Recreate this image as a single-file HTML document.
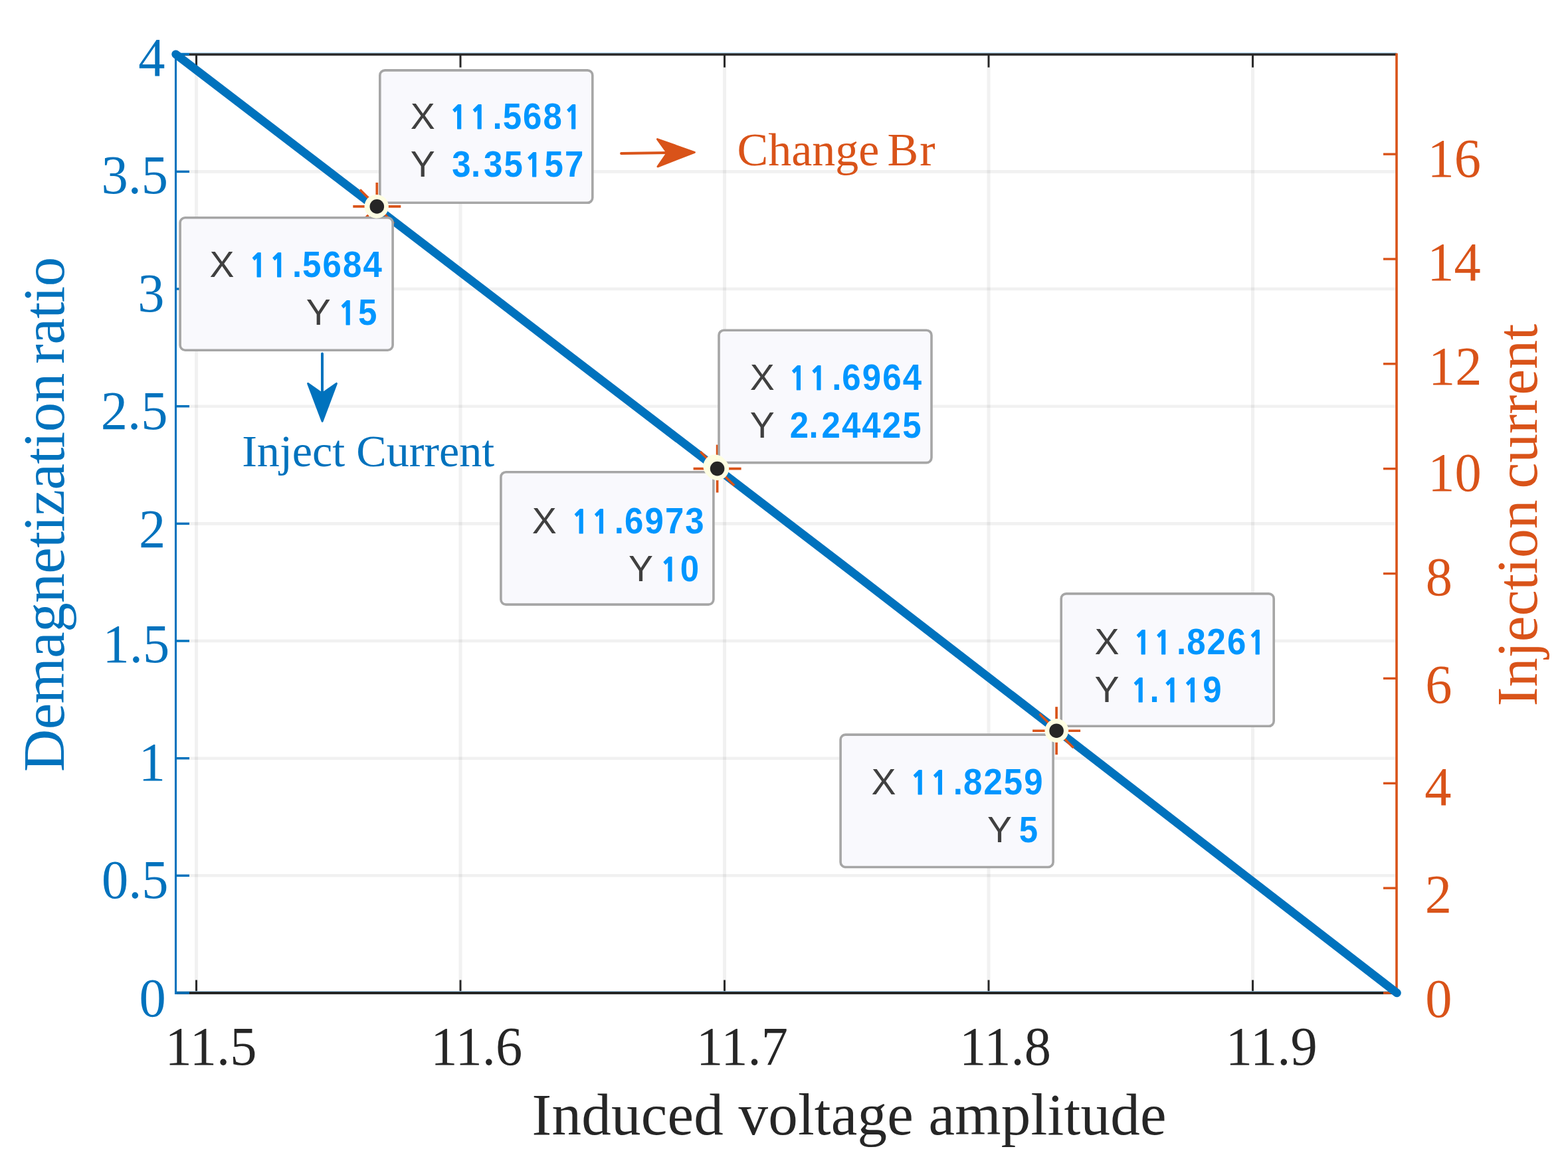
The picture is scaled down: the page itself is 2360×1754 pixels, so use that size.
<!DOCTYPE html>
<html><head><meta charset="utf-8"><title>Demagnetization ratio vs Induced voltage amplitude</title>
<style>html,body{margin:0;padding:0;background:#fff;overflow:hidden;} svg{display:block;}</style>
</head><body>
<svg width="2360" height="1754" viewBox="0 0 2360 1754">
<rect width="2360" height="1754" fill="#ffffff"/>
<line x1="295.5" y1="84" x2="295.5" y2="1493" stroke="#262626" stroke-opacity="0.064" stroke-width="5"/>
<line x1="693" y1="84" x2="693" y2="1493" stroke="#262626" stroke-opacity="0.064" stroke-width="5"/>
<line x1="1090.5" y1="84" x2="1090.5" y2="1493" stroke="#262626" stroke-opacity="0.064" stroke-width="5"/>
<line x1="1488" y1="84" x2="1488" y2="1493" stroke="#262626" stroke-opacity="0.064" stroke-width="5"/>
<line x1="1885.5" y1="84" x2="1885.5" y2="1493" stroke="#262626" stroke-opacity="0.064" stroke-width="5"/>
<line x1="266.0" y1="1318.3" x2="2100.3" y2="1318.3" stroke="#262626" stroke-opacity="0.064" stroke-width="4.6"/>
<line x1="266.0" y1="1141.7" x2="2100.3" y2="1141.7" stroke="#262626" stroke-opacity="0.064" stroke-width="4.6"/>
<line x1="266.0" y1="965.0" x2="2100.3" y2="965.0" stroke="#262626" stroke-opacity="0.064" stroke-width="4.6"/>
<line x1="266.0" y1="788.4" x2="2100.3" y2="788.4" stroke="#262626" stroke-opacity="0.064" stroke-width="4.6"/>
<line x1="266.0" y1="611.7" x2="2100.3" y2="611.7" stroke="#262626" stroke-opacity="0.064" stroke-width="4.6"/>
<line x1="266.0" y1="435.0" x2="2100.3" y2="435.0" stroke="#262626" stroke-opacity="0.064" stroke-width="4.6"/>
<line x1="266.0" y1="258.4" x2="2100.3" y2="258.4" stroke="#262626" stroke-opacity="0.064" stroke-width="4.6"/>
<line x1="295.5" y1="82" x2="295.5" y2="101.5" stroke="#262626" stroke-width="2.9"/>
<line x1="295.5" y1="1495" x2="295.5" y2="1475.5" stroke="#262626" stroke-width="2.9"/>
<line x1="693" y1="82" x2="693" y2="101.5" stroke="#262626" stroke-width="2.9"/>
<line x1="693" y1="1495" x2="693" y2="1475.5" stroke="#262626" stroke-width="2.9"/>
<line x1="1090.5" y1="82" x2="1090.5" y2="101.5" stroke="#262626" stroke-width="2.9"/>
<line x1="1090.5" y1="1495" x2="1090.5" y2="1475.5" stroke="#262626" stroke-width="2.9"/>
<line x1="1488" y1="82" x2="1488" y2="101.5" stroke="#262626" stroke-width="2.9"/>
<line x1="1488" y1="1495" x2="1488" y2="1475.5" stroke="#262626" stroke-width="2.9"/>
<line x1="1885.5" y1="82" x2="1885.5" y2="101.5" stroke="#262626" stroke-width="2.9"/>
<line x1="1885.5" y1="1495" x2="1885.5" y2="1475.5" stroke="#262626" stroke-width="2.9"/>
<line x1="264.5" y1="79.6" x2="2102" y2="79.6" stroke="#9fd0f2" stroke-width="1"/>
<line x1="264.5" y1="1492.6" x2="2102" y2="1492.6" stroke="#9fd0f2" stroke-width="1"/>
<line x1="264.5" y1="82" x2="2102" y2="82" stroke="#262626" stroke-width="3.6"/>
<line x1="264.5" y1="1495" x2="2102" y2="1495" stroke="#262626" stroke-width="3.8"/>
<line x1="264.5" y1="1495.0" x2="285.0" y2="1495.0" stroke="#0072BD" stroke-width="3.4"/>
<line x1="264.5" y1="1318.3" x2="285.0" y2="1318.3" stroke="#0072BD" stroke-width="3.4"/>
<line x1="264.5" y1="1141.7" x2="285.0" y2="1141.7" stroke="#0072BD" stroke-width="3.4"/>
<line x1="264.5" y1="965.0" x2="285.0" y2="965.0" stroke="#0072BD" stroke-width="3.4"/>
<line x1="264.5" y1="788.4" x2="285.0" y2="788.4" stroke="#0072BD" stroke-width="3.4"/>
<line x1="264.5" y1="611.7" x2="285.0" y2="611.7" stroke="#0072BD" stroke-width="3.4"/>
<line x1="264.5" y1="435.0" x2="285.0" y2="435.0" stroke="#0072BD" stroke-width="3.4"/>
<line x1="264.5" y1="258.4" x2="285.0" y2="258.4" stroke="#0072BD" stroke-width="3.4"/>
<line x1="264.5" y1="81.7" x2="285.0" y2="81.7" stroke="#0072BD" stroke-width="3.4"/>
<line x1="2102" y1="1495.0" x2="2082" y2="1495.0" stroke="#D95319" stroke-width="3.4"/>
<line x1="2102" y1="1337.1" x2="2082" y2="1337.1" stroke="#D95319" stroke-width="3.4"/>
<line x1="2102" y1="1179.3" x2="2082" y2="1179.3" stroke="#D95319" stroke-width="3.4"/>
<line x1="2102" y1="1021.4" x2="2082" y2="1021.4" stroke="#D95319" stroke-width="3.4"/>
<line x1="2102" y1="863.6" x2="2082" y2="863.6" stroke="#D95319" stroke-width="3.4"/>
<line x1="2102" y1="705.7" x2="2082" y2="705.7" stroke="#D95319" stroke-width="3.4"/>
<line x1="2102" y1="547.8" x2="2082" y2="547.8" stroke="#D95319" stroke-width="3.4"/>
<line x1="2102" y1="390.0" x2="2082" y2="390.0" stroke="#D95319" stroke-width="3.4"/>
<line x1="2102" y1="232.1" x2="2082" y2="232.1" stroke="#D95319" stroke-width="3.4"/>
<line x1="264.5" y1="80.2" x2="264.5" y2="1496.9" stroke="#0072BD" stroke-width="3.1"/>
<line x1="2102" y1="80.2" x2="2102" y2="1496.9" stroke="#D95319" stroke-width="3.6"/>
<polyline points="264.6,81.7 1300,874.7 2102.5,1494.9" fill="none" stroke="#0072BD" stroke-width="12.6" stroke-linecap="round" stroke-linejoin="round"/>
<text transform="translate(248.60,1603.1) scale(1,1.037)" style="font-family:&quot;Liberation Serif&quot;,&quot;Times New Roman&quot;,serif;font-size:80.5px" fill="#262626">11.5</text>
<text transform="translate(648.32,1603.1) scale(1,1.037)" style="font-family:&quot;Liberation Serif&quot;,&quot;Times New Roman&quot;,serif;font-size:80.5px" fill="#262626">11.6</text>
<text transform="translate(1048.03,1603.1) scale(1,1.037)" style="font-family:&quot;Liberation Serif&quot;,&quot;Times New Roman&quot;,serif;font-size:80.5px" fill="#262626">11.7</text>
<text transform="translate(1444.01,1603.1) scale(1,1.037)" style="font-family:&quot;Liberation Serif&quot;,&quot;Times New Roman&quot;,serif;font-size:80.5px" fill="#262626">11.8</text>
<text transform="translate(1844.78,1603.1) scale(1,1.037)" style="font-family:&quot;Liberation Serif&quot;,&quot;Times New Roman&quot;,serif;font-size:80.5px" fill="#262626">11.9</text>
<text transform="translate(208.22,114.00) scale(1,1.037)" style="font-family:&quot;Liberation Serif&quot;,&quot;Times New Roman&quot;,serif;font-size:80.5px" fill="#0072BD">4</text>
<text transform="translate(152.48,291.22) scale(1,1.037)" style="font-family:&quot;Liberation Serif&quot;,&quot;Times New Roman&quot;,serif;font-size:80.5px" fill="#0072BD">3.5</text>
<text transform="translate(207.22,468.98) scale(1,1.037)" style="font-family:&quot;Liberation Serif&quot;,&quot;Times New Roman&quot;,serif;font-size:80.5px" fill="#0072BD">3</text>
<text transform="translate(151.79,646.12) scale(1,1.037)" style="font-family:&quot;Liberation Serif&quot;,&quot;Times New Roman&quot;,serif;font-size:80.5px" fill="#0072BD">2.5</text>
<text transform="translate(208.88,823.90) scale(1,1.037)" style="font-family:&quot;Liberation Serif&quot;,&quot;Times New Roman&quot;,serif;font-size:80.5px" fill="#0072BD">2</text>
<text transform="translate(154.52,996.82) scale(1,1.037)" style="font-family:&quot;Liberation Serif&quot;,&quot;Times New Roman&quot;,serif;font-size:80.5px" fill="#0072BD">1.5</text>
<text transform="translate(208.75,1175.00) scale(1,1.037)" style="font-family:&quot;Liberation Serif&quot;,&quot;Times New Roman&quot;,serif;font-size:80.5px" fill="#0072BD">1</text>
<text transform="translate(152.88,1352.02) scale(1,1.037)" style="font-family:&quot;Liberation Serif&quot;,&quot;Times New Roman&quot;,serif;font-size:80.5px" fill="#0072BD">0.5</text>
<text transform="translate(209.43,1530.38) scale(1,1.037)" style="font-family:&quot;Liberation Serif&quot;,&quot;Times New Roman&quot;,serif;font-size:80.5px" fill="#0072BD">0</text>
<text transform="translate(2148.61,265.98) scale(1,1.037)" style="font-family:&quot;Liberation Serif&quot;,&quot;Times New Roman&quot;,serif;font-size:80.5px" fill="#D95319">16</text>
<text transform="translate(2148.34,422.00) scale(1,1.037)" style="font-family:&quot;Liberation Serif&quot;,&quot;Times New Roman&quot;,serif;font-size:80.5px" fill="#D95319">14</text>
<text transform="translate(2149.93,579.00) scale(1,1.037)" style="font-family:&quot;Liberation Serif&quot;,&quot;Times New Roman&quot;,serif;font-size:80.5px" fill="#D95319">12</text>
<text transform="translate(2149.30,739.48) scale(1,1.037)" style="font-family:&quot;Liberation Serif&quot;,&quot;Times New Roman&quot;,serif;font-size:80.5px" fill="#D95319">10</text>
<text transform="translate(2145.72,895.88) scale(1,1.037)" style="font-family:&quot;Liberation Serif&quot;,&quot;Times New Roman&quot;,serif;font-size:80.5px" fill="#D95319">8</text>
<text transform="translate(2145.19,1057.68) scale(1,1.037)" style="font-family:&quot;Liberation Serif&quot;,&quot;Times New Roman&quot;,serif;font-size:80.5px" fill="#D95319">6</text>
<text transform="translate(2144.17,1212.40) scale(1,1.037)" style="font-family:&quot;Liberation Serif&quot;,&quot;Times New Roman&quot;,serif;font-size:80.5px" fill="#D95319">4</text>
<text transform="translate(2144.78,1374.00) scale(1,1.037)" style="font-family:&quot;Liberation Serif&quot;,&quot;Times New Roman&quot;,serif;font-size:80.5px" fill="#D95319">2</text>
<text transform="translate(2145.32,1530.88) scale(1,1.037)" style="font-family:&quot;Liberation Serif&quot;,&quot;Times New Roman&quot;,serif;font-size:80.5px" fill="#D95319">0</text>
<text x="800.5" y="1707.8" style="font-family:&quot;Liberation Serif&quot;,&quot;Times New Roman&quot;,serif;font-size:89px" fill="#262626" letter-spacing="0.25">Induced voltage amplitude</text>
<text transform="translate(96.4,1162) rotate(-90)" style="font-family:&quot;Liberation Serif&quot;,&quot;Times New Roman&quot;,serif;font-size:89px;word-spacing:-7px" fill="#0072BD" letter-spacing="-0.55">Demagnetization ratio</text>
<text transform="translate(2312.6,1063.4) rotate(-90)" style="font-family:&quot;Liberation Serif&quot;,&quot;Times New Roman&quot;,serif;font-size:87.5px;word-spacing:-5px" fill="#D95319" letter-spacing="0">Injection current</text>
<text x="1109.6" y="249.3" style="font-family:&quot;Liberation Serif&quot;,&quot;Times New Roman&quot;,serif;font-size:70px;word-spacing:-5.5px" fill="#D95319">Change B<tspan dx="2">r</tspan></text>
<text x="364.2" y="702.2" style="font-family:&quot;Liberation Serif&quot;,&quot;Times New Roman&quot;,serif;font-size:68.1px" fill="#0072BD">Inject Current</text>
<line x1="935" y1="231" x2="1003" y2="230" stroke="#D95319" stroke-width="3.8" stroke-linecap="round"/>
<polygon points="1045.3,229.4 989.5,209.6 1004.3,230 990,250.8" fill="#D95319" stroke="#D95319" stroke-width="3" stroke-linejoin="round"/>
<line x1="485" y1="532.6" x2="485" y2="594" stroke="#0072BD" stroke-width="4" stroke-linecap="round"/>
<polygon points="485.1,634.3 463.6,577.4 484.9,592.5 506.4,577.4" fill="#0072BD" stroke="#0072BD" stroke-width="3" stroke-linejoin="round"/>
<line x1="531.3" y1="310.9" x2="603.3" y2="310.9" stroke="#D95319" stroke-width="3.6"/><line x1="567.3" y1="274.9" x2="567.3" y2="346.9" stroke="#D95319" stroke-width="3.7"/><line x1="541.8" y1="285.4" x2="592.8" y2="336.4" stroke="#D95319" stroke-width="3.6"/><line x1="541.8" y1="336.4" x2="592.8" y2="285.4" stroke="#D95319" stroke-width="3.6"/><line x1="1043.6" y1="705.6" x2="1115.6" y2="705.6" stroke="#D95319" stroke-width="3.6"/><line x1="1079.6" y1="669.6" x2="1079.6" y2="741.6" stroke="#D95319" stroke-width="3.7"/><line x1="1054.1" y1="680.1" x2="1105.1" y2="731.1" stroke="#D95319" stroke-width="3.6"/><line x1="1054.1" y1="731.1" x2="1105.1" y2="680.1" stroke="#D95319" stroke-width="3.6"/><line x1="1554.1" y1="1100.2" x2="1626.1" y2="1100.2" stroke="#D95319" stroke-width="3.6"/><line x1="1590.1" y1="1064.2" x2="1590.1" y2="1136.2" stroke="#D95319" stroke-width="3.7"/><line x1="1564.6" y1="1074.7" x2="1615.6" y2="1125.7" stroke="#D95319" stroke-width="3.6"/><line x1="1564.6" y1="1125.7" x2="1615.6" y2="1074.7" stroke="#D95319" stroke-width="3.6"/>
<rect x="571.80" y="105.90" width="320.00" height="199.40" rx="7.5" ry="7.5" fill="#f9f9fd" stroke="#a6a6a6" stroke-width="3.6"/>
<text x="617.7" y="194.0" style="font-family:&quot;Liberation Sans&quot;,Arial,Helvetica,sans-serif;font-size:55.5px" fill="#404040">X</text>
<text x="617.7" y="265.9" style="font-family:&quot;Liberation Sans&quot;,Arial,Helvetica,sans-serif;font-size:55.5px" fill="#404040">Y</text>
<text transform="scale(0.93,1)" y="194.0" style="font-family:&quot;Liberation Sans&quot;,Arial,Helvetica,sans-serif;font-size:54.8px;font-weight:bold" fill="#0096FF"><tspan x="727.53" style="font-family:NanumGothic,&quot;Liberation Sans&quot;,sans-serif;font-weight:800;font-size:48.77px">1</tspan><tspan x="760.29" style="font-family:NanumGothic,&quot;Liberation Sans&quot;,sans-serif;font-weight:800;font-size:48.77px">1</tspan><tspan x="797.35">.</tspan><tspan x="813.60">5</tspan><tspan x="846.36">6</tspan><tspan x="879.13">8</tspan><tspan x="912.35" style="font-family:NanumGothic,&quot;Liberation Sans&quot;,sans-serif;font-weight:800;font-size:48.77px">1</tspan></text>
<text transform="scale(0.93,1)" y="265.9" style="font-family:&quot;Liberation Sans&quot;,Arial,Helvetica,sans-serif;font-size:54.8px;font-weight:bold" fill="#0096FF"><tspan x="731.43">3</tspan><tspan x="762.49">.</tspan><tspan x="782.84">3</tspan><tspan x="815.60">5</tspan><tspan x="848.82" style="font-family:NanumGothic,&quot;Liberation Sans&quot;,sans-serif;font-weight:800;font-size:48.77px">1</tspan><tspan x="881.12">5</tspan><tspan x="913.88">7</tspan></text>
<rect x="271.10" y="327.80" width="320.00" height="199.40" rx="7.5" ry="7.5" fill="#f9f9fd" stroke="#a6a6a6" stroke-width="3.6"/>
<text x="315.6" y="416.8" style="font-family:&quot;Liberation Sans&quot;,Arial,Helvetica,sans-serif;font-size:55.5px" fill="#404040">X</text>
<text x="460.8" y="488.8" style="font-family:&quot;Liberation Sans&quot;,Arial,Helvetica,sans-serif;font-size:55.5px" fill="#404040">Y</text>
<text transform="scale(0.93,1)" y="416.8" style="font-family:&quot;Liberation Sans&quot;,Arial,Helvetica,sans-serif;font-size:54.8px;font-weight:bold" fill="#0096FF"><tspan x="403.23" style="font-family:NanumGothic,&quot;Liberation Sans&quot;,sans-serif;font-weight:800;font-size:48.77px">1</tspan><tspan x="435.99" style="font-family:NanumGothic,&quot;Liberation Sans&quot;,sans-serif;font-weight:800;font-size:48.77px">1</tspan><tspan x="473.05">.</tspan><tspan x="489.30">5</tspan><tspan x="522.06">6</tspan><tspan x="554.83">8</tspan><tspan x="587.59">4</tspan></text>
<text transform="scale(0.93,1)" y="488.8" style="font-family:&quot;Liberation Sans&quot;,Arial,Helvetica,sans-serif;font-size:54.8px;font-weight:bold" fill="#0096FF"><tspan x="547.21" style="font-family:NanumGothic,&quot;Liberation Sans&quot;,sans-serif;font-weight:800;font-size:48.77px">1</tspan><tspan x="579.51">5</tspan></text>
<rect x="1082.00" y="497.20" width="320.00" height="199.40" rx="7.5" ry="7.5" fill="#f9f9fd" stroke="#a6a6a6" stroke-width="3.6"/>
<text x="1128.8" y="586.9" style="font-family:&quot;Liberation Sans&quot;,Arial,Helvetica,sans-serif;font-size:55.5px" fill="#404040">X</text>
<text x="1128.8" y="659" style="font-family:&quot;Liberation Sans&quot;,Arial,Helvetica,sans-serif;font-size:55.5px" fill="#404040">Y</text>
<text transform="scale(0.93,1)" y="586.9" style="font-family:&quot;Liberation Sans&quot;,Arial,Helvetica,sans-serif;font-size:54.8px;font-weight:bold" fill="#0096FF"><tspan x="1276.56" style="font-family:NanumGothic,&quot;Liberation Sans&quot;,sans-serif;font-weight:800;font-size:48.77px">1</tspan><tspan x="1309.32" style="font-family:NanumGothic,&quot;Liberation Sans&quot;,sans-serif;font-weight:800;font-size:48.77px">1</tspan><tspan x="1346.38">.</tspan><tspan x="1362.63">6</tspan><tspan x="1395.40">9</tspan><tspan x="1428.16">6</tspan><tspan x="1460.92">4</tspan></text>
<text transform="scale(0.93,1)" y="659" style="font-family:&quot;Liberation Sans&quot;,Arial,Helvetica,sans-serif;font-size:54.8px;font-weight:bold" fill="#0096FF"><tspan x="1278.10">2</tspan><tspan x="1309.16">.</tspan><tspan x="1329.51">2</tspan><tspan x="1362.27">4</tspan><tspan x="1395.03">4</tspan><tspan x="1427.79">2</tspan><tspan x="1460.55">5</tspan></text>
<rect x="753.90" y="710.70" width="320.00" height="199.40" rx="7.5" ry="7.5" fill="#f9f9fd" stroke="#a6a6a6" stroke-width="3.6"/>
<text x="800.7" y="803.0" style="font-family:&quot;Liberation Sans&quot;,Arial,Helvetica,sans-serif;font-size:55.5px" fill="#404040">X</text>
<text x="946.1" y="874.9" style="font-family:&quot;Liberation Sans&quot;,Arial,Helvetica,sans-serif;font-size:55.5px" fill="#404040">Y</text>
<text transform="scale(0.93,1)" y="803.0" style="font-family:&quot;Liberation Sans&quot;,Arial,Helvetica,sans-serif;font-size:54.8px;font-weight:bold" fill="#0096FF"><tspan x="924.63" style="font-family:NanumGothic,&quot;Liberation Sans&quot;,sans-serif;font-weight:800;font-size:48.77px">1</tspan><tspan x="957.39" style="font-family:NanumGothic,&quot;Liberation Sans&quot;,sans-serif;font-weight:800;font-size:48.77px">1</tspan><tspan x="994.44">.</tspan><tspan x="1010.70">6</tspan><tspan x="1043.46">9</tspan><tspan x="1076.22">7</tspan><tspan x="1108.99">3</tspan></text>
<text transform="scale(0.93,1)" y="874.9" style="font-family:&quot;Liberation Sans&quot;,Arial,Helvetica,sans-serif;font-size:54.8px;font-weight:bold" fill="#0096FF"><tspan x="1068.61" style="font-family:NanumGothic,&quot;Liberation Sans&quot;,sans-serif;font-weight:800;font-size:48.77px">1</tspan><tspan x="1100.91">0</tspan></text>
<rect x="1597.20" y="893.90" width="320.00" height="199.40" rx="7.5" ry="7.5" fill="#f9f9fd" stroke="#a6a6a6" stroke-width="3.6"/>
<text x="1647.6" y="984.9" style="font-family:&quot;Liberation Sans&quot;,Arial,Helvetica,sans-serif;font-size:55.5px" fill="#404040">X</text>
<text x="1647.6" y="1056.8" style="font-family:&quot;Liberation Sans&quot;,Arial,Helvetica,sans-serif;font-size:55.5px" fill="#404040">Y</text>
<text transform="scale(0.93,1)" y="984.9" style="font-family:&quot;Liberation Sans&quot;,Arial,Helvetica,sans-serif;font-size:54.8px;font-weight:bold" fill="#0096FF"><tspan x="1834.52" style="font-family:NanumGothic,&quot;Liberation Sans&quot;,sans-serif;font-weight:800;font-size:48.77px">1</tspan><tspan x="1867.28" style="font-family:NanumGothic,&quot;Liberation Sans&quot;,sans-serif;font-weight:800;font-size:48.77px">1</tspan><tspan x="1904.34">.</tspan><tspan x="1920.59">8</tspan><tspan x="1953.35">2</tspan><tspan x="1986.12">6</tspan><tspan x="2019.33" style="font-family:NanumGothic,&quot;Liberation Sans&quot;,sans-serif;font-weight:800;font-size:48.77px">1</tspan></text>
<text transform="scale(0.93,1)" y="1056.8" style="font-family:&quot;Liberation Sans&quot;,Arial,Helvetica,sans-serif;font-size:54.8px;font-weight:bold" fill="#0096FF"><tspan x="1830.11" style="font-family:NanumGothic,&quot;Liberation Sans&quot;,sans-serif;font-weight:800;font-size:48.77px">1</tspan><tspan x="1860.71">.</tspan><tspan x="1881.51" style="font-family:NanumGothic,&quot;Liberation Sans&quot;,sans-serif;font-weight:800;font-size:48.77px">1</tspan><tspan x="1914.27" style="font-family:NanumGothic,&quot;Liberation Sans&quot;,sans-serif;font-weight:800;font-size:48.77px">1</tspan><tspan x="1946.58">9</tspan></text>
<rect x="1265.10" y="1106.10" width="320.00" height="199.40" rx="7.5" ry="7.5" fill="#f9f9fd" stroke="#a6a6a6" stroke-width="3.6"/>
<text x="1311.6" y="1196.1" style="font-family:&quot;Liberation Sans&quot;,Arial,Helvetica,sans-serif;font-size:55.5px" fill="#404040">X</text>
<text x="1486.0" y="1267.8" style="font-family:&quot;Liberation Sans&quot;,Arial,Helvetica,sans-serif;font-size:55.5px" fill="#404040">Y</text>
<text transform="scale(0.93,1)" y="1196.1" style="font-family:&quot;Liberation Sans&quot;,Arial,Helvetica,sans-serif;font-size:54.8px;font-weight:bold" fill="#0096FF"><tspan x="1473.01" style="font-family:NanumGothic,&quot;Liberation Sans&quot;,sans-serif;font-weight:800;font-size:48.77px">1</tspan><tspan x="1505.78" style="font-family:NanumGothic,&quot;Liberation Sans&quot;,sans-serif;font-weight:800;font-size:48.77px">1</tspan><tspan x="1542.83">.</tspan><tspan x="1559.09">8</tspan><tspan x="1591.85">2</tspan><tspan x="1624.61">5</tspan><tspan x="1657.37">9</tspan></text>
<text transform="scale(0.93,1)" y="1267.8" style="font-family:&quot;Liberation Sans&quot;,Arial,Helvetica,sans-serif;font-size:54.8px;font-weight:bold" fill="#0096FF"><tspan x="1649.18">5</tspan></text>
<circle cx="566.1" cy="310.8" r="17.6" fill="#fefee2"/><circle cx="566.1" cy="310.8" r="10.8" fill="#262626"/>
<circle cx="567.3" cy="310.9" r="17.6" fill="#fefee2"/><circle cx="567.3" cy="310.9" r="10.8" fill="#262626"/>
<circle cx="1076" cy="702" r="17.6" fill="#fefee2"/><circle cx="1076" cy="702" r="10.8" fill="#262626"/>
<circle cx="1079.6" cy="705.6" r="17.6" fill="#fefee2"/><circle cx="1079.6" cy="705.6" r="10.8" fill="#262626"/>
<circle cx="1590.6" cy="1099.9" r="17.6" fill="#fefee2"/><circle cx="1590.6" cy="1099.9" r="10.8" fill="#262626"/>
<circle cx="1590.1" cy="1100.2" r="17.6" fill="#fefee2"/><circle cx="1590.1" cy="1100.2" r="10.8" fill="#262626"/>
</svg>
</body></html>
